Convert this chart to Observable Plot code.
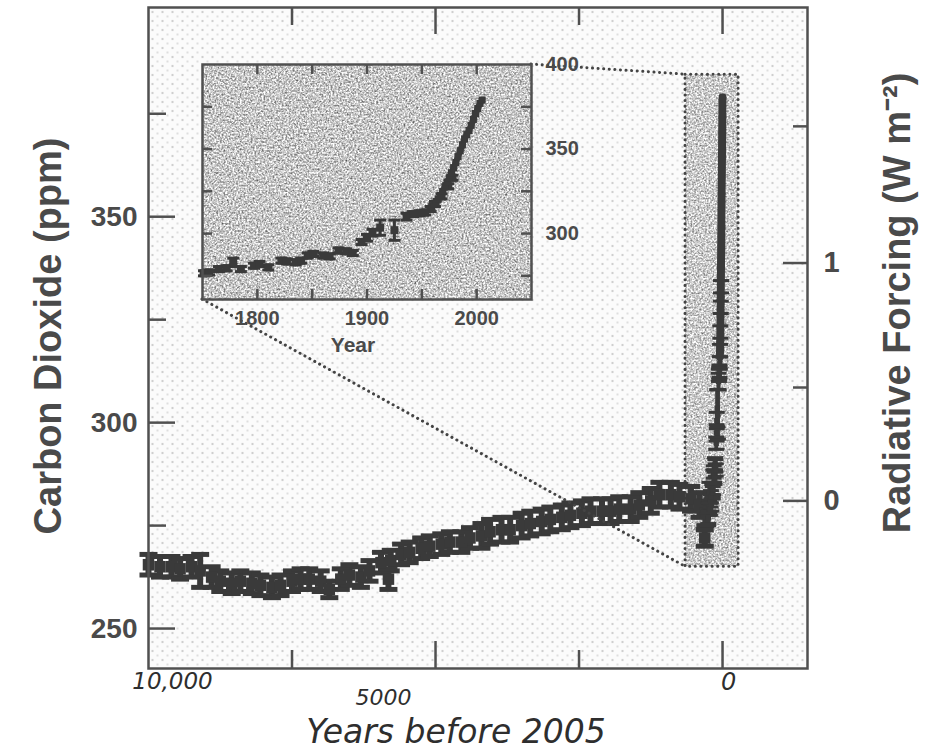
<!DOCTYPE html>
<html><head><meta charset="utf-8">
<script src="https://cdn.jsdelivr.net/npm/d3@7"></script>
<script src="https://cdn.jsdelivr.net/npm/@observablehq/plot@0.6"></script>
<style>
body{margin:0;background:#fff;}
#wrap{position:relative;width:925px;height:754px;overflow:hidden;background:#fff;}
#wrap svg{position:absolute;}
</style></head><body><div id="wrap"></div>
<script>
// ---------------- data ----------------
// Holocene ice-core CO2 (years before 2005, ppm, error)
const holoceneBP  = [10000,9800,9600,9450,9250,9100,8900,8750,8550,8400,8200,8050,7850,7700,7500,7350,7200,7000,6850,6650,6500,6300,6150,5950,5820,5780,5600,5450,5250,5100,4900,4750,4550,4400,4200,4050,3850,3700,3500,3350,3150,3000,2800,2650,2450,2300,2100,1950,1800,1600,1450,1250,1100,900,750,550,400,310,300];
const holoceneCO2 = [265.5,265,265,264.5,265,264,262.5,261.5,261,261.5,261,260.5,260,260.5,261.5,262,262,261.5,259.5,262,263,262.5,264,266,262,266.5,268,268.5,269.5,270,270.5,271,271,272,272.5,273.5,274,274,275,275.5,276,276.5,277,277.5,278,278.5,278.5,278.5,279,279,280,281,282.5,282.5,282,281.5,280,272,278];
const holoceneErr = [2.5,2.5,2.5,2.5,2.5,4,2.5,2.5,2.5,2.5,2.5,2.5,2.5,2.5,2.5,2.5,2.5,2.5,2,2.5,2.5,2.5,2.5,2.5,2.5,2.5,2.5,2.5,2.5,2.5,2.5,2.5,2.5,2.5,3,3,3,3,3,3,3,3,3,3,3,3,3,3,3,3,3,3,3,3,3,3,3,2,3];

// Industrial-era ice-core CO2 (year AD, ppm, error)
const iceYear = [1751,1756,1765,1772,1778,1785,1797,1802,1810,1822,1827,1835,1840,1846,1851,1860,1866,1874,1881,1887,1895,1900,1905,1912,1925,1936,1942,1948,1953,1958,1962,1968,1974,1978];
const iceCO2  = [276.5,277,279,279.5,283,279,281,282,280,284,283.5,283,284,287,288,287,286.5,290,289.5,288.5,295,297.5,300.5,303.5,302,310,311.5,312,312.5,314.5,317.5,322,328,333];
const iceErr  = [1.5,1.5,1.5,1.5,2.5,1.5,1.5,1.5,1.5,1.5,1.5,1.5,1.5,1.5,1.5,1.5,1.5,1.5,1.5,1.5,1.5,2,2,4.5,6,2,1.5,1.5,1.5,1.5,1.5,1.5,1.5,1.5];

// Atmospheric measurements (year AD, ppm)
const atmosYear = [1959,1961,1963,1965,1967,1969,1971,1973,1975,1977,1979,1981,1983,1985,1987,1989,1991,1993,1995,1997,1999,2001,2003,2005];
const atmosCO2  = [316,317.5,319,320.5,322.5,325,327.5,330.5,333,336,339,342,345.5,349,352.5,356,358.5,361,364,367.5,371,374,377,379];

// Axes / ticks
const mainXMajor = [5000, 0];
const mainXMinor = [7500, 2500];
const mainXLabelValues = [10000, 5000, 0];
const mainXLabels = ["10,000", "5000", "0"];
const co2Major = [250, 300, 350];
const co2Minor = [275, 325, 375];
const forcingMajor = [0, 1];
const forcingMinor = [0.5, 1.5];
const forcingRefPpm = 281;     // CO2 at zero forcing
const insetYearTicks = [1800, 1850, 1900, 1950, 2000];
const insetYearLabels = [1800, 1900, 2000];
const insetCO2Ticks = [275, 300, 325, 350, 375];
const insetCO2Labels = [300, 350, 400];
// highlighted region in the main chart (years before 2005, ppm)
const zoomBoxBP = [645, -280];
const zoomBoxCO2 = [265, 384.5];

// ---------------- build ----------------
const INK = "#3a3a3a";
const TXT = "#4a4a4a";
const FONT = "'Liberation Sans', Arial, Helvetica, sans-serif";
const HAND = "'DejaVu Sans', 'Liberation Sans', sans-serif";

const holo = holoceneBP.map((t, i) => ({t, co2: holoceneCO2[i], err: holoceneErr[i]}));
const ice = iceYear.map((y, i) => ({year: y, t: 2005 - y, co2: iceCO2[i], err: iceErr[i]}));
const atm = atmosYear.map((y, i) => ({year: y, t: 2005 - y, co2: atmosCO2[i]}));
const toPpm = f => forcingRefPpm * Math.exp(f / 5.35);
const toForcing = c => 5.35 * Math.log(c / forcingRefPpm);

const cap = {draw(ctx, size) { const w = Math.sqrt(size / Math.PI); ctx.moveTo(-w, 0); ctx.lineTo(w, 0); }};

function errMarks(data, xKey, capR, sq, sw, rw) {
  return [
    Plot.ruleX(data, {x: xKey, y1: d => d.co2 - d.err, y2: d => d.co2 + d.err, stroke: INK, strokeWidth: rw}),
    Plot.dot(data, {x: xKey, y: d => d.co2 - d.err, symbol: cap, r: capR, stroke: INK, strokeWidth: sw}),
    Plot.dot(data, {x: xKey, y: d => d.co2 + d.err, symbol: cap, r: capR, stroke: INK, strokeWidth: sw}),
    Plot.dot(data, {x: xKey, y: "co2", symbol: "square", r: sq, fill: INK, stroke: "none"})
  ];
}

const M = {width: 925, height: 754, left: 148, right: 118, top: 7, bottom: 86};
const fw = M.width - M.left - M.right, fh = M.height - M.top - M.bottom;

const zoomBox = [{x1: zoomBoxBP[0], x2: zoomBoxBP[1], y1: zoomBoxCO2[0], y2: zoomBoxCO2[1]}];

const main = Plot.plot({
  width: M.width, height: M.height,
  marginLeft: M.left, marginRight: M.right, marginTop: M.top, marginBottom: M.bottom,
  style: {background: "transparent", color: TXT, fontFamily: FONT},
  x: {domain: [10000, -1480]},
  y: {domain: [240.3, 400.8]},
  marks: [
    Plot.frame({fill: "url(#stipple)"}),
    Plot.rect(zoomBox, {x1: "x1", x2: "x2", y1: "y1", y2: "y2", fill: "#c8c8c8"}),
    Plot.rect(zoomBox, {x1: "x1", x2: "x2", y1: "y1", y2: "y2", fill: "none", stroke: "#444", strokeWidth: 3, strokeDasharray: "0.1 5.5", strokeLinecap: "round"}),
    ...errMarks(holo, "t", 9, 6.5, 5, 6),
    ...errMarks(ice, "t", 8, 3, 3, 4),
    Plot.line(atm, {x: "t", y: "co2", stroke: INK, strokeWidth: 8}),
    Plot.frame({stroke: "#505050", strokeWidth: 2.5}),
    // inward ticks
    Plot.ruleX(mainXMajor, {insetTop: fh - 27, stroke: "#505050", strokeWidth: 2.5}),
    Plot.ruleX(mainXMinor, {insetTop: fh - 18, stroke: "#505050", strokeWidth: 2.5}),
    Plot.ruleX(mainXMajor, {insetBottom: fh - 27, stroke: "#505050", strokeWidth: 2.5}),
    Plot.ruleX(mainXMinor, {insetBottom: fh - 18, stroke: "#505050", strokeWidth: 2.5}),
    Plot.ruleY(co2Major, {insetRight: fw - 27, stroke: "#505050", strokeWidth: 2.5}),
    Plot.ruleY(co2Minor, {insetRight: fw - 18, stroke: "#505050", strokeWidth: 2.5}),
    Plot.ruleY(forcingMajor.map(toPpm), {insetLeft: fw - 24, stroke: "#505050", strokeWidth: 2.5}),
    Plot.ruleY(forcingMinor.map(toPpm), {insetLeft: fw - 14, stroke: "#505050", strokeWidth: 2.5}),
    // tick labels
    Plot.axisY(co2Major, {anchor: "left", tickSize: 0, tickPadding: 11, fontSize: 28, fontWeight: "bold", label: null}),
    Plot.axisY(forcingMajor.map(toPpm), {anchor: "right", tickSize: 0, tickPadding: 16, fontSize: 29, fontWeight: "bold", label: null,
      tickFormat: d => String(Math.round(toForcing(d)))}),
    Plot.axisX([mainXLabelValues[0]], {anchor: "bottom", tickSize: 0, tickPadding: 4, dx: 24, tickFormat: () => mainXLabels[0],
      fontFamily: HAND, fontStyle: "italic", fontSize: 23, fill: "#2e2e2e", label: null}),
    Plot.axisX([mainXLabelValues[1]], {anchor: "bottom", tickSize: 0, tickPadding: 21, dx: -52, tickFormat: () => mainXLabels[1],
      fontFamily: HAND, fontStyle: "italic", fontSize: 22, fill: "#2e2e2e", label: null}),
    Plot.axisX([mainXLabelValues[2]], {anchor: "bottom", tickSize: 0, tickPadding: 4, dx: 6, tickFormat: () => mainXLabels[2],
      fontFamily: HAND, fontStyle: "italic", fontSize: 24, fill: "#2e2e2e", label: null}),
    // axis titles
    Plot.text(["Years before 2005"], {text: d => d, frameAnchor: "bottom", textAnchor: "middle", lineAnchor: "middle", dx: -22, dy: 64,
      fontFamily: HAND, fontStyle: "italic", fontSize: 33, fill: "#2e2e2e"}),
    Plot.text(["Carbon Dioxide (ppm)"], {text: d => d, frameAnchor: "left", textAnchor: "middle", lineAnchor: "middle", dx: -100, dy: -2, rotate: -90, fontSize: 38, fontWeight: "bold"}),
    Plot.text(["Radiative Forcing (W m⁻²)"], {text: d => d, frameAnchor: "right", textAnchor: "middle", lineAnchor: "middle", dx: 90, dy: -35, rotate: -90, fontSize: 38, fontWeight: "bold"})
  ]
});

// inset
const I = {left: 198, top: 52, mL: 4, mR: 70, mT: 12, mB: 62, fw: 329, fh: 235};
const inset = Plot.plot({
  width: I.mL + I.fw + I.mR, height: I.mT + I.fh + I.mB,
  marginLeft: I.mL, marginRight: I.mR, marginTop: I.mT, marginBottom: I.mB,
  style: {background: "transparent", color: TXT, fontFamily: FONT},
  x: {domain: [1750, 2050]},
  y: {domain: [261, 400]},
  marks: [
    Plot.frame({fill: "#b8b8b8"}),
    ...errMarks(ice, "year", 6, 4.5, 3, 3),
    Plot.line(atm, {x: "year", y: "co2", stroke: INK, strokeWidth: 6}),
    Plot.dot(atm, {x: "year", y: "co2", symbol: "square", r: 4, fill: INK, stroke: "none"}),
    Plot.frame({stroke: "#505050", strokeWidth: 2.5}),
    Plot.ruleX(insetYearTicks, {insetTop: I.fh - 10, stroke: "#505050", strokeWidth: 2.5}),
    Plot.ruleX(insetYearTicks, {insetBottom: I.fh - 10, stroke: "#505050", strokeWidth: 2.5}),
    Plot.ruleY(insetCO2Ticks, {insetRight: I.fw - 10, stroke: "#505050", strokeWidth: 2.5}),
    Plot.ruleY(insetCO2Ticks, {insetLeft: I.fw - 10, stroke: "#505050", strokeWidth: 2.5}),
    Plot.axisX(insetYearLabels, {anchor: "bottom", tickSize: 0, tickPadding: 11, fontSize: 20, fontWeight: "bold", tickFormat: d => String(d), label: null}),
    Plot.axisY(insetCO2Labels, {anchor: "right", tickSize: 0, tickPadding: 14, fontSize: 20, fontWeight: "bold", label: null}),
    Plot.text(["Year"], {text: d => d, frameAnchor: "bottom", textAnchor: "middle", lineAnchor: "middle", dx: -14, dy: 46, fontSize: 21, fontWeight: "bold"})
  ]
});

const wrap = document.getElementById("wrap");
main.style.left = "0px"; main.style.top = "0px";
inset.style.left = I.left + "px"; inset.style.top = I.top + "px";
wrap.appendChild(main);
wrap.appendChild(inset);

// textures
d3.select(main).insert("defs", ":first-child").html(`
<pattern id="stipple" width="10" height="9" patternUnits="userSpaceOnUse">
  <rect width="10" height="9" fill="#fbfbfb"/>
  <circle cx="2" cy="2.5" r="0.8" fill="#8e8e8e"/>
  <circle cx="7" cy="7" r="0.65" fill="#a9a9a9"/>
</pattern>
<filter id="grainDark" x="0" y="0" width="1" height="1" color-interpolation-filters="sRGB">
  <feTurbulence type="fractalNoise" baseFrequency="0.55" numOctaves="2" seed="4" result="t"/>
  <feColorMatrix in="t" type="saturate" values="0" result="g"/>
  <feComponentTransfer in="g" result="c">
    <feFuncR type="linear" slope="1.4" intercept="0.08"/>
    <feFuncG type="linear" slope="1.4" intercept="0.08"/>
    <feFuncB type="linear" slope="1.4" intercept="0.08"/>
    <feFuncA type="linear" slope="0" intercept="1"/>
  </feComponentTransfer>
  <feComposite in="c" in2="SourceGraphic" operator="in"/>
</filter>
<filter id="grainLight" x="0" y="0" width="1" height="1" color-interpolation-filters="sRGB">
  <feTurbulence type="fractalNoise" baseFrequency="0.55" numOctaves="2" seed="9" result="t"/>
  <feColorMatrix in="t" type="saturate" values="0" result="g"/>
  <feComponentTransfer in="g" result="c">
    <feFuncR type="linear" slope="1.3" intercept="0.15"/>
    <feFuncG type="linear" slope="1.3" intercept="0.15"/>
    <feFuncB type="linear" slope="1.3" intercept="0.15"/>
    <feFuncA type="linear" slope="0" intercept="1"/>
  </feComponentTransfer>
  <feComposite in="c" in2="SourceGraphic" operator="in"/>
</filter>`);

const boxG = main.querySelector('[aria-label="rect"]');
if (boxG) boxG.setAttribute("filter", "url(#grainLight)");
const insetBg = inset.querySelector('[aria-label="frame"]');
if (insetBg) insetBg.setAttribute("filter", "url(#grainDark)");

// dotted connector lines from inset corners to the highlighted box
const sx = main.scale("x"), sy = main.scale("y");
const ix = inset.scale("x"), iy = inset.scale("y");
const insetTR = [I.left + ix.apply(ix.domain[1]), I.top + iy.apply(iy.domain[1])];
const insetBL = [I.left + ix.apply(ix.domain[0]), I.top + iy.apply(iy.domain[0])];
const boxTL = [sx.apply(zoomBoxBP[0]), sy.apply(zoomBoxCO2[1])];
const boxBL = [sx.apply(zoomBoxBP[0]), sy.apply(zoomBoxCO2[0])];
const g = d3.select(main).append("g").attr("stroke", "#444").attr("stroke-width", 3)
  .attr("stroke-dasharray", "0.1 5.5").attr("stroke-linecap", "round");
[[insetTR, boxTL], [insetBL, boxBL]].forEach(([a, b]) => {
  g.append("line").attr("x1", a[0]).attr("y1", a[1]).attr("x2", b[0]).attr("y2", b[1]);
});
</script></body></html>
